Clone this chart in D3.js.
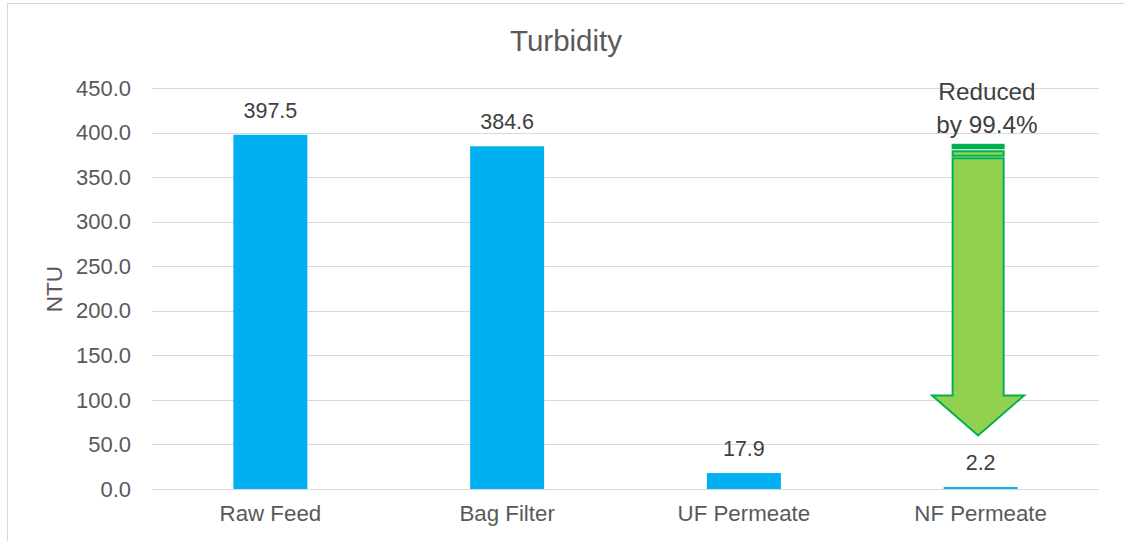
<!DOCTYPE html>
<html>
<head>
<meta charset="utf-8">
<script src="https://cdn.jsdelivr.net/npm/d3@7"></script>
<style>
  html, body { margin: 0; padding: 0; background: #ffffff; }
  svg { display: block; }
  text { font-family: "Liberation Sans", Arial, sans-serif; }
</style>
</head>
<body>
<svg id="chart" width="1124" height="541"></svg>
<script>
// ---- data ----
const categories = ["Raw Feed", "Bag Filter", "UF Permeate", "NF Permeate"];
const values = [397.5, 384.6, 17.9, 2.2];
const valueLabels = ["397.5", "384.6", "17.9", "2.2"];
const yTicks = [0, 50, 100, 150, 200, 250, 300, 350, 400, 450];
const title = "Turbidity";
const yAxisTitle = "NTU";
const annotationLines = ["Reduced", "by 99.4%"];
// arrow drawn from the Bag Filter value down towards the NF value
const arrowTopValue = 384.6;
const arrowHeadTopValue = 105;
const arrowTipValue = 60;

const svg = d3.select("#chart");

// chart border (cropped at right/bottom like the reference)
svg.append("rect")
  .attr("x", 7.5).attr("y", 3.5)
  .attr("width", 1124).attr("height", 600)
  .attr("fill", "#ffffff")
  .attr("stroke", "#d9d9d9").attr("stroke-width", 1);

const plot = { left: 152, right: 1099, top: 88, bottom: 489 };

const x = d3.scaleBand()
  .domain(categories)
  .range([plot.left, plot.right])
  .paddingInner(0.6874)
  .paddingOuter(0.6874 / 2);

const y = d3.scaleLinear()
  .domain([0, 450])
  .range([plot.bottom, plot.top]);

// gridlines
svg.append("g")
  .selectAll("line")
  .data(yTicks)
  .join("line")
  .attr("x1", plot.left).attr("x2", plot.right)
  .attr("y1", d => Math.round(y(d)) + 0.5)
  .attr("y2", d => Math.round(y(d)) + 0.5)
  .attr("stroke", "#d9d9d9").attr("stroke-width", 1);

// y tick labels
svg.append("g")
  .selectAll("text")
  .data(yTicks)
  .join("text")
  .attr("x", 131)
  .attr("y", d => y(d))
  .attr("dy", "0.35em")
  .attr("text-anchor", "end")
  .attr("font-size", 22)
  .attr("fill", "#595959")
  .text(d => d3.format(".1f")(d));

// bars
svg.append("g")
  .selectAll("rect")
  .data(values)
  .join("rect")
  .attr("x", (d, i) => x(categories[i]))
  .attr("width", x.bandwidth())
  .attr("y", d => y(d))
  .attr("height", d => y(0) - y(d))
  .attr("fill", "#00B0F0");

// value labels
svg.append("g")
  .selectAll("text")
  .data(values)
  .join("text")
  .attr("x", (d, i) => x(categories[i]) + x.bandwidth() / 2)
  .attr("y", d => y(d) - 17)
  .attr("text-anchor", "middle")
  .attr("font-size", 21.5)
  .attr("fill", "#404040")
  .text((d, i) => valueLabels[i]);

// category labels
svg.append("g")
  .selectAll("text")
  .data(categories)
  .join("text")
  .attr("x", d => x(d) + x.bandwidth() / 2)
  .attr("y", 521)
  .attr("text-anchor", "middle")
  .attr("font-size", 22.3)
  .attr("fill", "#595959")
  .text(d => d);

// title
svg.append("text")
  .attr("x", 566).attr("y", 51)
  .attr("text-anchor", "middle")
  .attr("font-size", 29.5)
  .attr("fill", "#595959")
  .text(title);

// y axis title
svg.append("text")
  .attr("transform", "translate(62,289) rotate(-90)")
  .attr("text-anchor", "middle")
  .attr("font-size", 22.5)
  .attr("fill", "#595959")
  .text(yAxisTitle);

// ---- striped down arrow annotation ----
const nf = categories[3];
const cx = x(nf) + x.bandwidth() / 2 - 2.5;
const shaftHalf = 25.5, headHalf = 46;
const yTop = y(arrowTopValue) - 1.5;
const yHead = y(arrowHeadTopValue);
const yTip = y(arrowTipValue);
const g = svg.append("g");
const arrowFill = "#92D050", arrowStroke = "#00B050";

g.append("rect")
  .attr("x", cx - shaftHalf).attr("y", yTop)
  .attr("width", shaftHalf * 2).attr("height", 3.5)
  .attr("fill", arrowStroke).attr("stroke", arrowStroke).attr("stroke-width", 2);
g.append("rect")
  .attr("x", cx - shaftHalf).attr("y", yTop + 6.5)
  .attr("width", shaftHalf * 2).attr("height", 4.5)
  .attr("fill", arrowFill).attr("stroke", arrowStroke).attr("stroke-width", 2);

const bodyTop = yTop + 13.5;
const pts = [
  [cx - shaftHalf, bodyTop],
  [cx + shaftHalf, bodyTop],
  [cx + shaftHalf, yHead],
  [cx + headHalf, yHead],
  [cx, yTip],
  [cx - headHalf, yHead],
  [cx - shaftHalf, yHead]
];
g.append("path")
  .attr("d", d3.line()(pts) + "Z")
  .attr("fill", arrowFill)
  .attr("stroke", arrowStroke)
  .attr("stroke-width", 2)
  .attr("stroke-linejoin", "miter");

// annotation text
svg.append("g")
  .selectAll("text")
  .data(annotationLines)
  .join("text")
  .attr("x", 987)
  .attr("y", (d, i) => 100 + i * 33)
  .attr("text-anchor", "middle")
  .attr("font-size", 24.3)
  .attr("fill", "#404040")
  .text(d => d);
</script>
</body>
</html>
